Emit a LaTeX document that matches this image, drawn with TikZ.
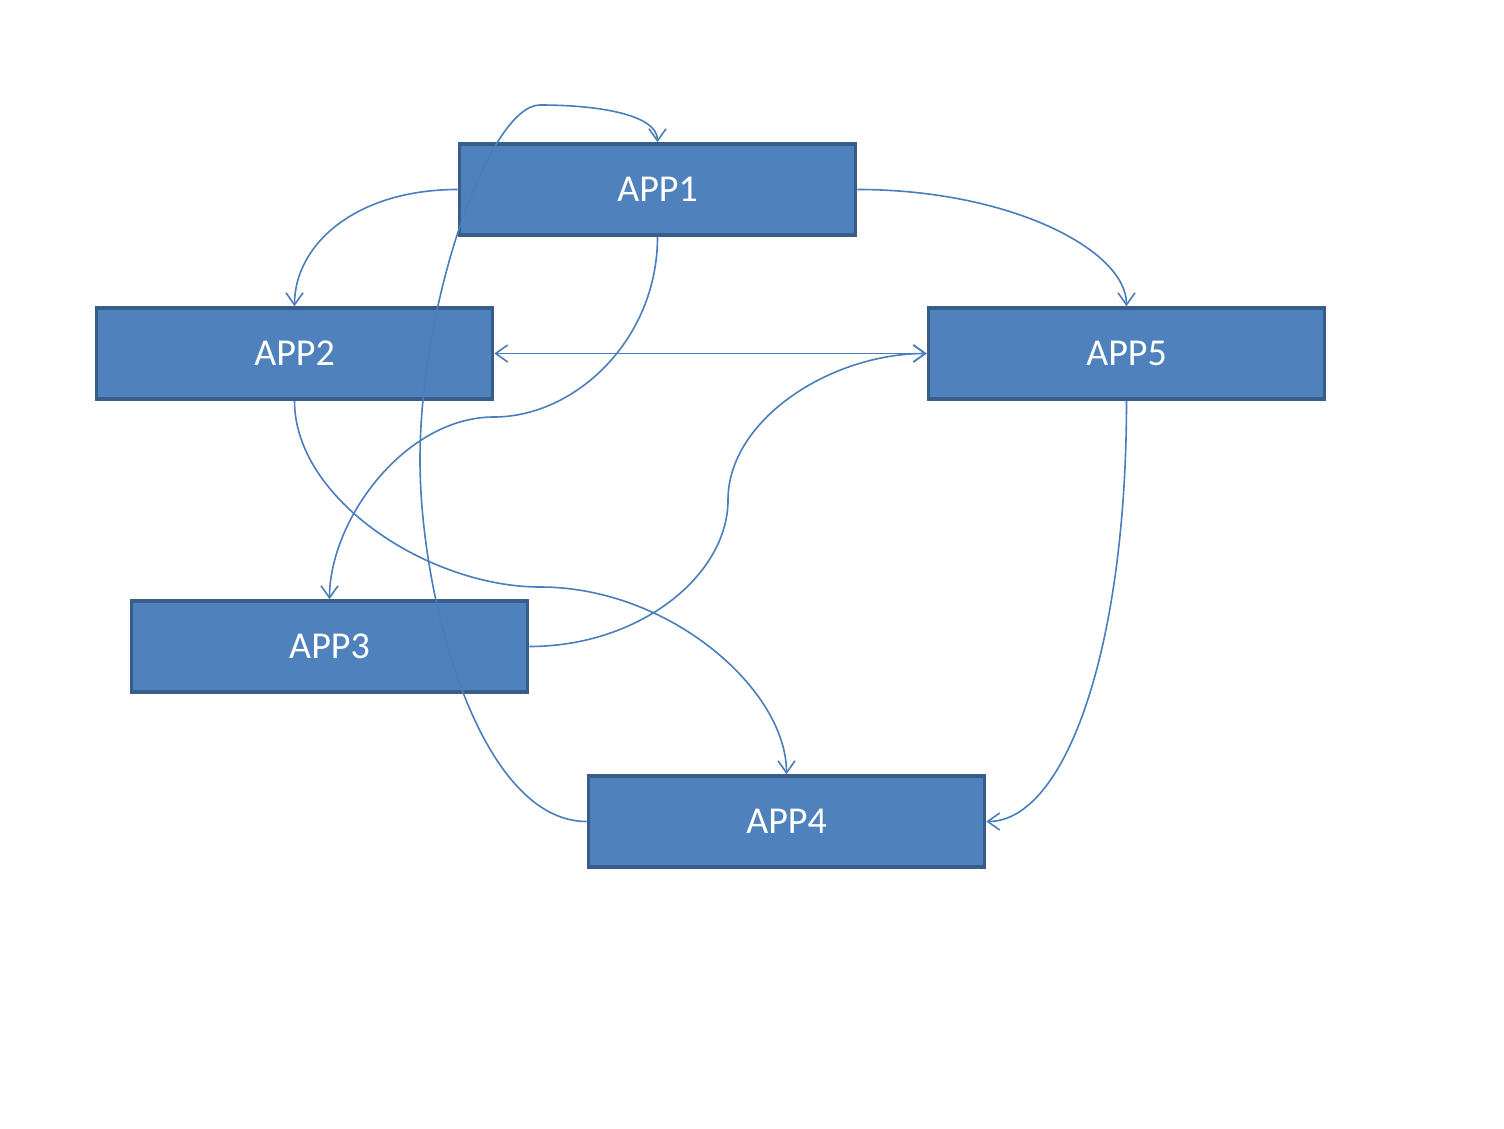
\documentclass[tikz,border=0pt]{standalone}
\usepackage{fontspec}
\setmainfont{Carlito}
\usetikzlibrary{arrows.meta}
\definecolor{boxfill}{HTML}{4F81BD}
\definecolor{boxdraw}{HTML}{385D8A}
\definecolor{linkc}{HTML}{4A7EBB}
\begin{document}
\begin{tikzpicture}[x=0.5pt,y=-0.5pt,
  appbox/.style={draw=boxdraw,fill=boxfill,line width=1.8pt,minimum width=198pt,minimum height=45.5pt,inner sep=0pt,text=white,font=\fontsize{19}{23}\selectfont},
  link/.style={draw=linkc,line width=0.8pt},
  tip/.style={-{Straight Barb[length=6pt,width=8.5pt,line width=0.8pt]}},
  bothtip/.style={{Straight Barb[length=6pt,width=8.5pt,line width=0.8pt]}-{Straight Barb[length=6pt,width=8.5pt,line width=0.8pt]}}]
\useasboundingbox (0,0) rectangle (1504,1129);
\node[appbox] (a1) at (657.5,189.5) {APP1};
\node[appbox] (a2) at (294.5,353.5) {APP2};
\node[appbox] (a5) at (1126.5,353.5) {APP5};
\node[appbox] (a3) at (329.5,646.5) {APP3};
\node[appbox] (a4) at (786.5,821.5) {APP4};
\coordinate (m14) at (494,417);
\coordinate (m35) at (728,500);
\coordinate (m24) at (540,587);
\coordinate (m41) at (420,460);
\coordinate (t41) at (540,105);
% APP1 -> APP2
\draw[link,tip] (a1.west) .. controls (355,189.5) and (294.5,245) .. (a2.north);
% APP1 -> APP5
\draw[link,tip] (a1.east) .. controls (1010,189.5) and (1126.5,250) .. (a5.north);
% APP2 <-> APP5
\draw[link,bothtip] (a2.east) -- (a5.west);
% APP1 -> APP3
\draw[link,tip] (a1.south) .. controls (657.5,340) and (575,417) .. (m14)
  .. controls (405,417) and (329.5,520) .. (a3.north);
% APP3 -> APP5
\draw[link,tip] (a3.east) .. controls (640,646.5) and (728,575) .. (m35)
  .. controls (728,420) and (830,353.5) .. (a5.west);
% APP2 -> APP4
\draw[link,tip] (a2.south) .. controls (294.5,500) and (430,587) .. (m24)
  .. controls (670,587) and (786.5,690) .. (a4.north);
% APP5 -> APP4
\draw[link,tip] (a5.south) .. controls (1126.5,650) and (1065,821.5) .. (a4.east);
% APP4 -> APP1
\draw[link,tip] (a4.west) .. controls (480,821.5) and (420,600) .. (m41)
  .. controls (420,300) and (490,105) .. (t41)
  .. controls (600,105) and (657.5,115) .. (a1.north);
\end{tikzpicture}
\end{document}
